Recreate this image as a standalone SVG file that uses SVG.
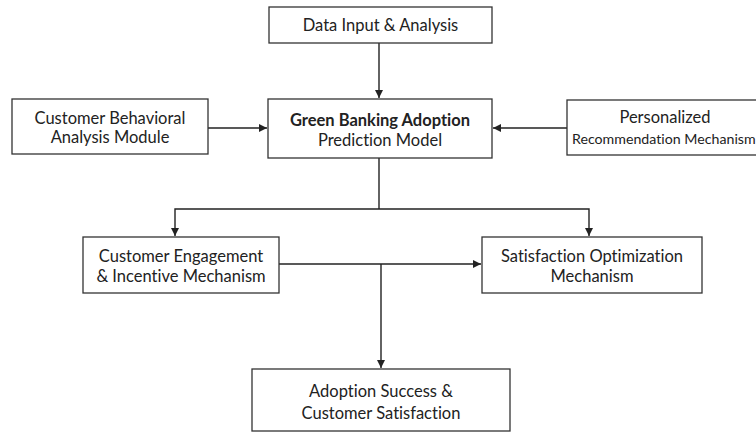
<svg xmlns="http://www.w3.org/2000/svg" width="756" height="432" viewBox="0 0 756 432">
<style>
.box{fill:#fff;stroke:#333;stroke-width:1.3}
.t{font-family:Lato,"Open Sans",sans-serif;font-size:16.5px;fill:#222;text-anchor:middle;font-variant-ligatures:none}
.b{font-weight:bold}
.c{fill:none;stroke:#222;stroke-width:1.4}
</style>
<defs>
<marker id="ah" viewBox="0 0 10 10" refX="10" refY="5" markerWidth="8" markerHeight="8" markerUnits="userSpaceOnUse" orient="auto">
<path d="M0,0 L10,5 L0,10 z" fill="#222"/>
</marker>
</defs>
<rect width="756" height="432" fill="#fff"/>
<g id="connectors">
<line class="c" x1="379" y1="43" x2="379" y2="98" marker-end="url(#ah)"/>
<line class="c" x1="208" y1="128" x2="267" y2="128" marker-end="url(#ah)"/>
<line class="c" x1="567" y1="128" x2="493" y2="128" marker-end="url(#ah)"/>
<polyline class="c" points="379,158 379,209"/>
<polyline class="c" points="379,209 175,209 175,236" marker-end="url(#ah)"/>
<polyline class="c" points="379,209 589,209 589,236" marker-end="url(#ah)"/>
<line class="c" x1="279" y1="264" x2="481" y2="264" marker-end="url(#ah)"/>
<line class="c" x1="381" y1="264" x2="381" y2="368" marker-end="url(#ah)"/>
</g>
<g id="data-input">
<rect class="box" x="269" y="7" width="223" height="36"/>
<text class="t" x="380.5" y="31">Data Input &amp; Analysis</text>
</g>
<g id="behavioral">
<rect class="box" x="12" y="99" width="196" height="55"/>
<text class="t" x="110" y="124">Customer Behavioral</text>
<text class="t" x="110" y="143">Analysis Module</text>
</g>
<g id="prediction">
<rect class="box" x="268" y="99" width="224" height="59"/>
<text class="t b" x="380" y="126">Green Banking Adoption</text>
<text class="t" x="380" y="146">Prediction Model</text>
</g>
<g id="recommendation">
<rect class="box" x="567" y="100" width="200" height="55"/>
<text class="t" x="665" y="123">Personalized</text>
<text class="t" x="572" y="144" style="text-anchor:start;font-size:14.2px">Recommendation Mechanism</text>
</g>
<g id="engagement">
<rect class="box" x="83" y="237" width="196" height="56"/>
<text class="t" x="181" y="262">Customer Engagement</text>
<text class="t" x="181" y="282">&amp; Incentive Mechanism</text>
</g>
<g id="satisfaction-opt">
<rect class="box" x="482" y="237" width="220" height="56"/>
<text class="t" x="592" y="262">Satisfaction Optimization</text>
<text class="t" x="592" y="282">Mechanism</text>
</g>
<g id="outcome">
<rect class="box" x="252" y="369" width="258" height="62"/>
<text class="t" x="381" y="397">Adoption Success &amp;</text>
<text class="t" x="381" y="419">Customer Satisfaction</text>
</g>
</svg>
